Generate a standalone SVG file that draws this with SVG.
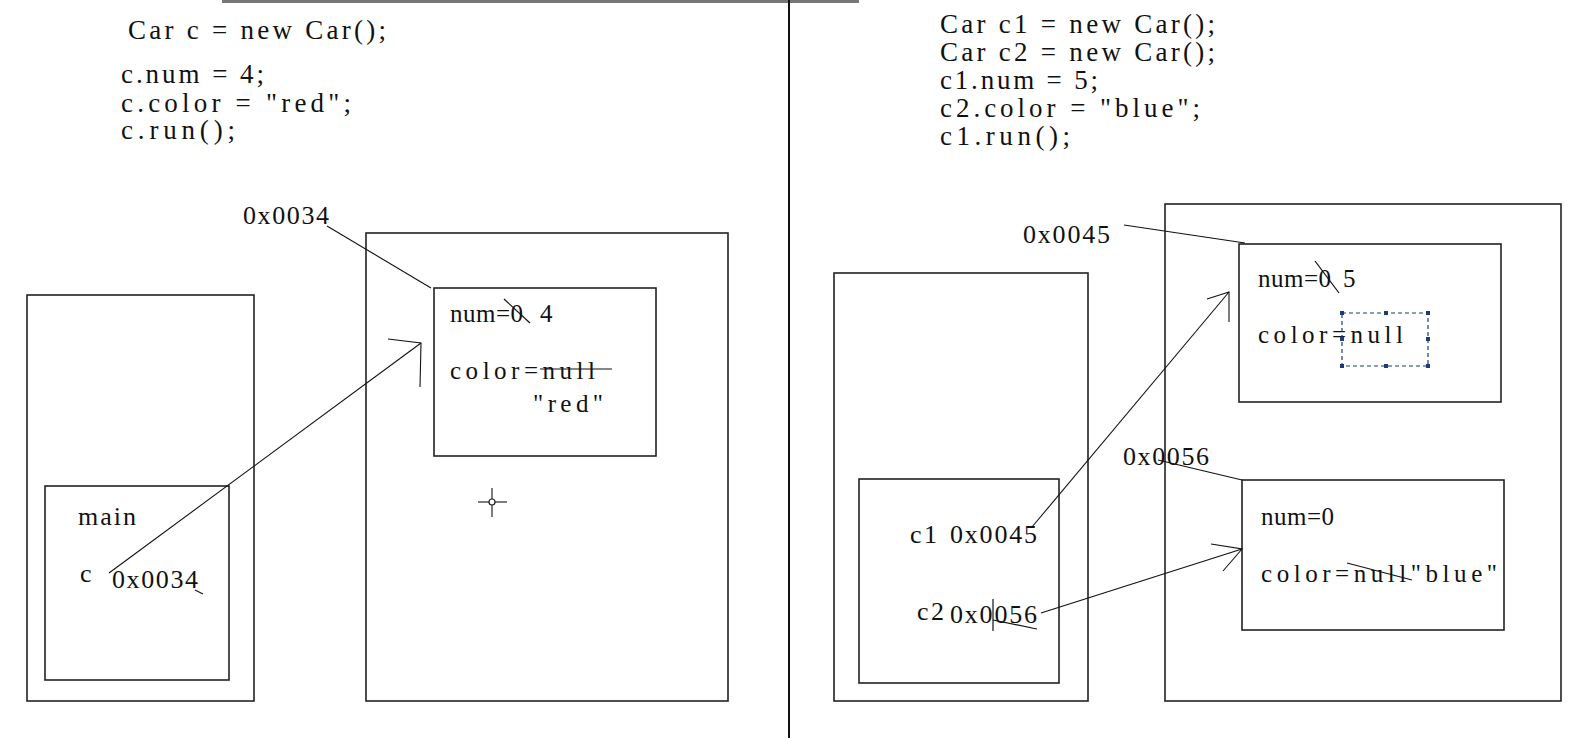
<svg xmlns="http://www.w3.org/2000/svg" width="1579" height="738" viewBox="0 0 1579 738">
<style>
text{font-family:"Liberation Serif","DejaVu Serif",serif;font-size:26px;fill:#111}
.code{font-size:27px}
.in{font-size:25px}
.box{fill:none;stroke:#222;stroke-width:1.6}
.ln{fill:none;stroke:#111;stroke-width:1.1}
.strike{fill:none;stroke:#111;stroke-width:1.2}
.sel{fill:none;stroke:#1f3a7a;stroke-width:1.2;stroke-dasharray:4 3}
.h{fill:#1f3a7a}
</style>
<rect width="1579" height="738" fill="#fff"/>
<rect x="222" y="0" width="637" height="3" fill="#777"/>
<line x1="789" y1="0" x2="789" y2="738" stroke="#111" stroke-width="2"/>

<g id="code-left">
<text class="code" x="128" y="39" textLength="258" lengthAdjust="spacing">Car c = new Car();</text>
<text class="code" x="121" y="83" textLength="143" lengthAdjust="spacing">c.num = 4;</text>
<text class="code" x="121" y="112" textLength="230" lengthAdjust="spacing">c.color = "red";</text>
<text class="code" x="121" y="139" textLength="114" lengthAdjust="spacing">c.run();</text>
</g>
<g id="code-right">
<text class="code" x="940" y="33" textLength="275" lengthAdjust="spacing">Car c1 = new Car();</text>
<text class="code" x="940" y="61" textLength="275" lengthAdjust="spacing">Car c2 = new Car();</text>
<text class="code" x="940" y="89" textLength="158" lengthAdjust="spacing">c1.num = 5;</text>
<text class="code" x="940" y="117" textLength="260" lengthAdjust="spacing">c2.color = "blue";</text>
<text class="code" x="940" y="145" textLength="130" lengthAdjust="spacing">c1.run();</text>
</g>

<g id="stack-left"><rect class="box" x="27" y="295" width="227" height="406"/></g>
<g id="frame-main">
<rect class="box" x="45" y="486" width="184" height="194"/>
<text x="78" y="525" textLength="58" lengthAdjust="spacing">main</text>
<text x="80" y="582">c</text>
<text x="112" y="588" textLength="86" lengthAdjust="spacing">0x0034</text>
<line class="strike" x1="195" y1="590" x2="203" y2="594"/>
</g>
<g id="heap-left"><rect class="box" x="366" y="233" width="362" height="468"/></g>
<g id="obj-c">
<rect class="box" x="434" y="288" width="222" height="168"/>
<text class="in" x="450" y="322" textLength="73" lengthAdjust="spacing">num=0</text>
<text class="in" x="540" y="322">4</text>
<line class="strike" x1="504" y1="299" x2="530" y2="323"/>
<text class="in" x="450" y="379" textLength="145" lengthAdjust="spacing">color=null</text>
<line class="strike" x1="540" y1="369" x2="612" y2="369"/>
<text class="in" x="533" y="412" textLength="70" lengthAdjust="spacing">"red"</text>
</g>
<g id="label-0x0034"><text x="243" y="224" textLength="86" lengthAdjust="spacing">0x0034</text></g>
<g id="cursor">
<line class="ln" x1="478" y1="502" x2="507" y2="502" stroke-width="1.6"/>
<line class="ln" x1="492" y1="488" x2="492" y2="517" stroke-width="1.6"/>
<circle cx="492" cy="502" r="3" fill="#fff" stroke="#222" stroke-width="1.2"/>
</g>

<g id="stack-right"><rect class="box" x="834" y="273" width="254" height="428"/></g>
<g id="frame-right">
<rect class="box" x="859" y="479" width="200" height="204"/>
<text x="910" y="543" textLength="27" lengthAdjust="spacing">c1</text>
<text x="950" y="543" textLength="87" lengthAdjust="spacing">0x0045</text>
<text x="917" y="620" textLength="27" lengthAdjust="spacing">c2</text>
<text x="950" y="623" textLength="87" lengthAdjust="spacing">0x0056</text>
<line class="strike" x1="993" y1="599" x2="993" y2="631"/>
<line class="strike" x1="993" y1="620" x2="1037" y2="629"/>
</g>
<g id="heap-right"><rect class="box" x="1165" y="204" width="396" height="497"/></g>
<g id="obj-c1">
<rect class="box" x="1239" y="244" width="262" height="158"/>
<text class="in" x="1258" y="287" textLength="73" lengthAdjust="spacing">num=0</text>
<text class="in" x="1343" y="287">5</text>
<line class="strike" x1="1315" y1="261" x2="1339" y2="293"/>
<text class="in" x="1258" y="343" textLength="145" lengthAdjust="spacing">color=null</text>
<rect class="sel" x="1342" y="313" width="86" height="53"/>
<g class="h">
<rect x="1340" y="311" width="4" height="4"/><rect x="1384" y="311" width="4" height="4"/><rect x="1426" y="311" width="4" height="4"/>
<rect x="1340" y="337" width="4" height="4"/><rect x="1426" y="337" width="4" height="4"/>
<rect x="1340" y="364" width="4" height="4"/><rect x="1384" y="364" width="4" height="4"/><rect x="1426" y="364" width="4" height="4"/>
</g>
</g>
<g id="obj-c2">
<rect class="box" x="1242" y="480" width="262" height="150"/>
<text class="in" x="1261" y="525" textLength="73" lengthAdjust="spacing">num=0</text>
<text class="in" x="1261" y="582" textLength="236" lengthAdjust="spacing">color=null"blue"</text>
<line class="strike" x1="1347" y1="563" x2="1412" y2="580"/>
</g>
<g id="label-0x0045"><text x="1023" y="243" textLength="87" lengthAdjust="spacing">0x0045</text></g>
<g id="label-0x0056"><text x="1123" y="465" textLength="86" lengthAdjust="spacing">0x0056</text></g>

<g id="connectors">
<line class="ln" x1="327" y1="226" x2="431" y2="288"/>
<line class="ln" x1="109" y1="573" x2="421" y2="343"/>
<polyline class="ln" points="388,339 421,343 420,387"/>
<line class="ln" x1="1124" y1="225" x2="1245" y2="243"/>
<line class="ln" x1="1032" y1="527" x2="1229" y2="292"/>
<polyline class="ln" points="1207,299 1229,292 1229,322"/>
<line class="ln" x1="1158" y1="460" x2="1242" y2="480"/>
<line class="ln" x1="1041" y1="613" x2="1242" y2="549"/>
<polyline class="ln" points="1211,544 1242,549 1223,571"/>
</g>
</svg>
